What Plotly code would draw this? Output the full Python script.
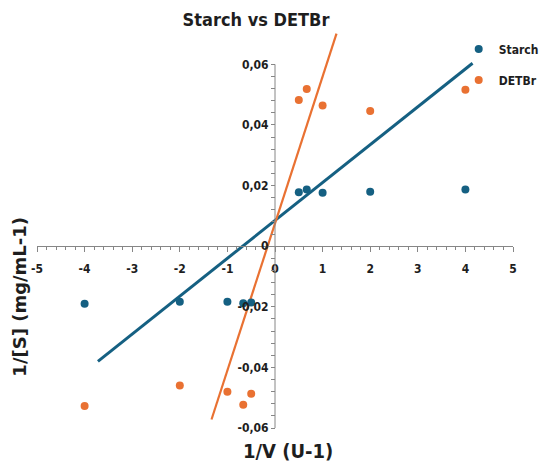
import numpy as np
import plotly.graph_objects as go

# ---- data ----
inv_v = [-4, -2, -1, -0.667, -0.5, 0.5, 0.667, 1, 2, 4]
starch = [-0.019, -0.0183, -0.0183, -0.0188, -0.0186, 0.0178, 0.0187, 0.0176, 0.018, 0.0187]
detbr = [-0.0527, -0.046, -0.048, -0.0523, -0.0487, 0.0482, 0.0519, 0.0464, 0.0446, 0.0516]

# trend lines (slope, intercept, x extent) as drawn in the reference
starch_fit = {"slope": 0.0125, "intercept": 0.0085, "x": [-3.72, 4.15]}
detbr_fit = {"slope": 0.0485, "intercept": 0.0075, "x": [-1.334, 1.292]}

x_ticks = [-5, -4, -3, -2, -1, 0, 1, 2, 3, 4, 5]
x_ticktext = ["-5", "-4", "-3", "-2", "-1", "0", "1", "2", "3", "4", "5"]
y_ticks = [-0.06, -0.04, -0.02, 0, 0.02, 0.04, 0.06]
y_ticktext = ["-0,06", "-0,04", "-0,02", "0", "0,02", "0,04", "0,06"]

title = "Starch vs DETBr"
x_title = "1/V (U-1)"
y_title = "1/[S] (mg/mL-1)"

BLUE = "#156082"
ORANGE = "#E97132"
AXIS = "#868686"
TXT = "#1e1e1e"
NARROW = "DejaVu Sans Condensed, Liberation Sans Narrow, Arial Narrow, sans-serif"

x_range = [-5, 5]
y_range = [-0.06, 0.072]

def line_y(fit):
    return [fit["slope"] * x + fit["intercept"] for x in fit["x"]]

fig = go.Figure()
fig.add_trace(go.Scatter(x=starch_fit["x"], y=line_y(starch_fit), mode="lines",
                         line=dict(color=BLUE, width=3), showlegend=False, hoverinfo="skip"))
fig.add_trace(go.Scatter(x=detbr_fit["x"], y=line_y(detbr_fit), mode="lines",
                         line=dict(color=ORANGE, width=2.2), showlegend=False, hoverinfo="skip"))
fig.add_trace(go.Scatter(x=inv_v, y=starch, mode="markers", name="Starch", legendgroup="a",
                         marker=dict(color=BLUE, size=8)))
fig.add_trace(go.Scatter(x=inv_v, y=detbr, mode="markers", name="DETBr", legendgroup="b",
                         marker=dict(color=ORANGE, size=8)))

y_minor = [round(v, 4) for v in np.arange(-0.06, 0.0601, 0.004)]

x_pos_of_zero = (0 - x_range[0]) / (x_range[1] - x_range[0])
y_pos_of_zero = (0 - y_range[0]) / (y_range[1] - y_range[0])

fig.update_layout(
    width=544, height=463,
    margin=dict(l=37.3, r=30.7, t=27.6, b=34.7, autoexpand=False),
    paper_bgcolor="white", plot_bgcolor="white",
    separators=",.",
    title=dict(text=title, x=256 / 544, xref="container", xanchor="center",
               y=1 - 20 / 463, yref="container", yanchor="middle",
               font=dict(family=NARROW, size=18, color=TXT, weight="bold")),
    xaxis=dict(range=x_range, anchor="free", position=y_pos_of_zero,
               showgrid=False, zeroline=False, showline=True, linecolor=AXIS, linewidth=1,
               tickmode="array", tickvals=x_ticks, ticktext=x_ticktext,
               ticks="outside", ticklen=5, tickcolor=AXIS, ticklabelstandoff=6,
               minor=dict(dtick=0.2, tick0=0, ticks="outside", ticklen=3, tickcolor=AXIS),
               tickfont=dict(family=NARROW, size=12, color=TXT, weight="bold")),
    yaxis=dict(range=y_range, anchor="free", position=x_pos_of_zero,
               showgrid=False, zeroline=False, showline=False,
               tickmode="array", tickvals=y_ticks, ticktext=y_ticktext,
               ticks="outside", ticklen=4, tickcolor=AXIS,
               minor=dict(tickmode="array", tickvals=y_minor, ticks="outside", ticklen=4, tickcolor=AXIS),
               tickfont=dict(family=NARROW, size=12, color=TXT, weight="bold")),
    legend=dict(x=(459 - 37.3) / 476, xanchor="left", y=1 - (34 - 27.6) / 400.7, yanchor="top",
                bgcolor="rgba(0,0,0,0)", tracegroupgap=12,
                font=dict(family=NARROW, size=12, color=TXT, weight="bold")),
    showlegend=True,
)

# y-axis line, only over the labelled span
fig.add_shape(type="line", xref="x", yref="y", x0=0, x1=0, y0=y_ticks[0], y1=y_ticks[-1],
              line=dict(color=AXIS, width=1), layer="above")

fig.add_annotation(text=y_title, xref="paper", yref="paper", x=(20 - 37.3) / 476,
                   y=1 - (297 - 27.6) / 400.7, textangle=-90, showarrow=False,
                   xanchor="center", yanchor="middle",
                   font=dict(family="DejaVu Sans", size=18, color=TXT, weight="bold"))
fig.add_annotation(text=x_title, xref="paper", yref="paper", x=(288 - 37.3) / 476,
                   y=1 - (451 - 27.6) / 400.7, showarrow=False,
                   xanchor="center", yanchor="middle",
                   font=dict(family=NARROW, size=20, color=TXT, weight="bold"))

fig.write_html("out.html")
